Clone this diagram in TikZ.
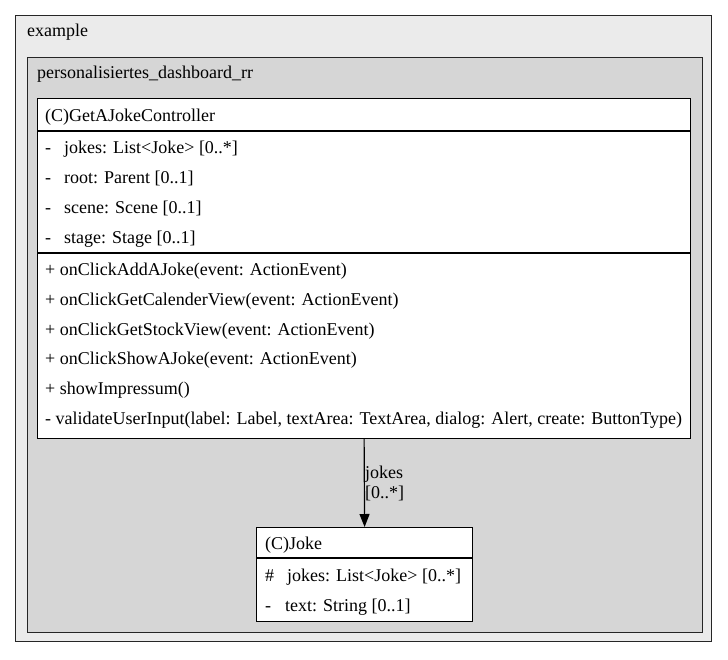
\documentclass[tikz,border=0pt]{standalone}
\usepackage{fontspec}
\setmainfont{Liberation Serif}
\usetikzlibrary{arrows.meta}
\definecolor{outerfill}{RGB}{235,235,235}
\definecolor{innerfill}{RGB}{214,214,214}
\begin{document}
\begin{tikzpicture}[x=1pt,y=-1pt,
  every node/.style={font=\fontsize{18}{20}\selectfont},
  cluster/.style={draw=black!85, line width=1pt, anchor=north west, inner sep=0pt},
  classbox/.style={draw=black, fill=white, line width=1.2pt, anchor=north west, inner sep=0pt},
  txt/.style={anchor=base west, inner sep=0pt},
  sep/.style={draw=black, line width=1.2pt}]
\useasboundingbox (0,0) rectangle (728,659);
\node[cluster, fill=outerfill, minimum width=696pt, minimum height=626pt] (outer) at (15,15) {};
\node[txt] (outerlbl) at (27,36) {example};
\node[cluster, fill=innerfill, minimum width=675pt, minimum height=575pt] (inner) at (27,57) {};
\node[txt] (innerlbl) at (37,78) {personalisiertes\_dashboard\_rr};
% controller class
\node[classbox, minimum width=653pt, minimum height=340pt] (ctrl) at (37,98) {};
\coordinate (c1) at (37,131); \coordinate (c2) at (37,253);
\draw[sep] (c1) -- (c1 -| ctrl.east);
\draw[sep] (c2) -- (c2 -| ctrl.east);
\node[txt] (ctitle) at (45,121) {(C)GetAJokeController};
\node[txt] (a1v) at (45,153) {-};
\node[txt] (a1) at (64,153) {jokes: List<Joke> [0..*]};
\node[txt] (a2v) at (45,183) {-};
\node[txt] (a2) at (64,183) {root: Parent [0..1]};
\node[txt] (a3v) at (45,213) {-};
\node[txt] (a3) at (64,213) {scene: Scene [0..1]};
\node[txt] (a4v) at (45,243) {-};
\node[txt] (a4) at (64,243) {stage: Stage [0..1]};
\node[txt] (m1) at (45,275) {+ onClickAddAJoke(event: ActionEvent)};
\node[txt] (m2) at (45,305) {+ onClickGetCalenderView(event: ActionEvent)};
\node[txt] (m3) at (45,335) {+ onClickGetStockView(event: ActionEvent)};
\node[txt] (m4) at (45,364) {+ onClickShowAJoke(event: ActionEvent)};
\node[txt] (m5) at (45,394) {+ showImpressum()};
\node[txt] (m6) at (45,424) {- validateUserInput(label: Label, textArea: TextArea, dialog: Alert, create: ButtonType)};
% joke class
\node[classbox, minimum width=216pt, minimum height=94pt] (joke) at (256,527) {};
\coordinate (j1) at (256,558);
\draw[sep] (j1) -- (j1 -| joke.east);
\node[txt] (jtitle) at (265,549) {(C)Joke};
\node[txt] (ja1v) at (265,581) {\#};
\node[txt] (ja1) at (287,581) {jokes: List<Joke> [0..*]};
\node[txt] (ja2v) at (265,611) {-};
\node[txt] (ja2) at (285,611) {text: String [0..1]};
% association
\draw[line width=1.2pt, -{Triangle[length=13pt,width=10pt]}] (ctrl.south) -- (joke.north);
\node[txt] (l1) at (365,478) {jokes};
\node[txt] (l2) at (365,498) {[0..*]};
\end{tikzpicture}
\end{document}
